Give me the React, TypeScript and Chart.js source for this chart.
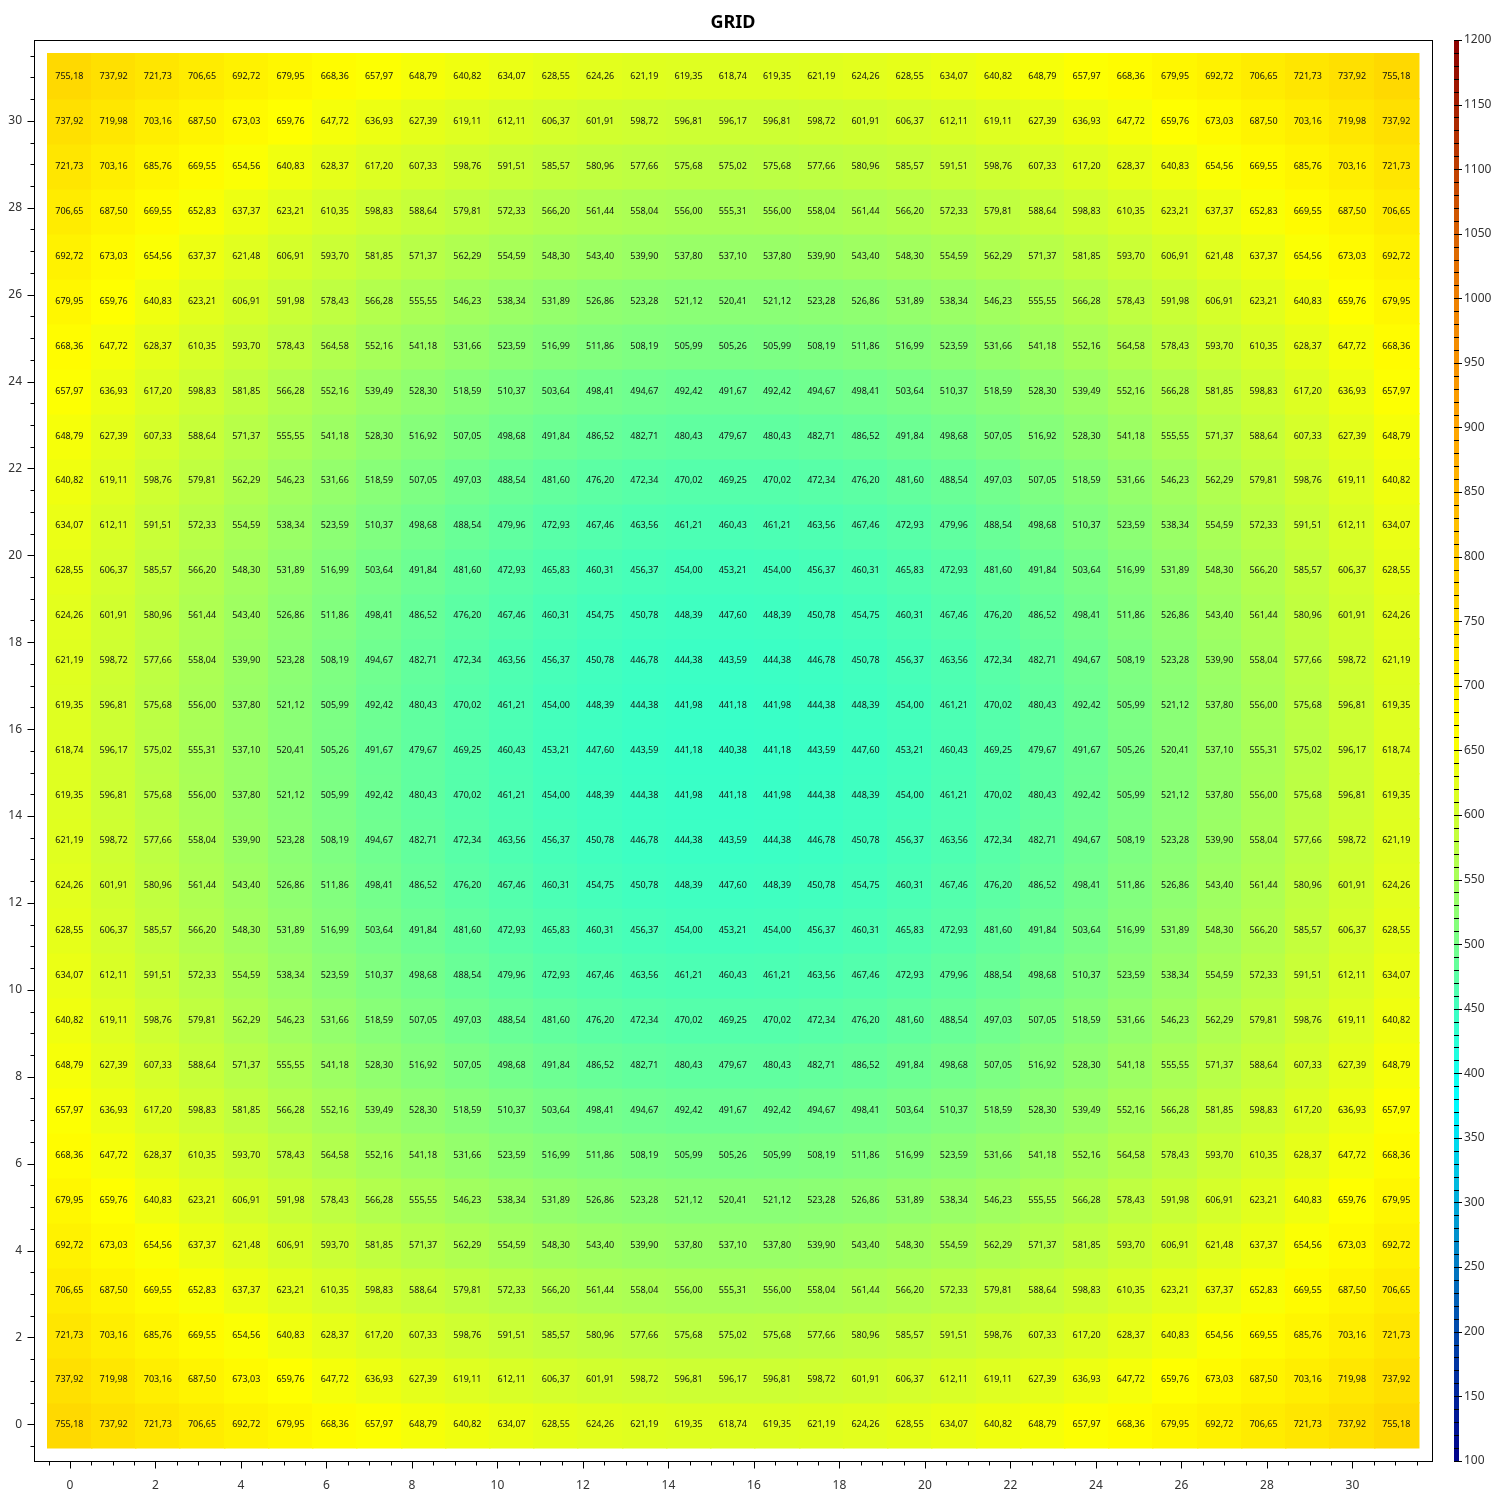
import { useEffect, useRef } from "react"
import { Chart, registerables } from "chart.js"

Chart.register(...registerables)

const FONT = "'Noto Sans', 'Open Sans', sans-serif"

// column / row indices of the grid
const xIndex = [0, 1, 2, 3, 4, 5, 6, 7, 8, 9, 10, 11, 12, 13, 14, 15, 16, 17, 18, 19, 20, 21, 22, 23, 24, 25, 26, 27, 28, 29, 30]
const yIndex = [0, 1, 2, 3, 4, 5, 6, 7, 8, 9, 10, 11, 12, 13, 14, 15, 16, 17, 18, 19, 20, 21, 22, 23, 24, 25, 26, 27, 28, 29, 30]

// cell values, row 0 is the bottom row
const gridRows: number[][] = [
  [755.18, 737.92, 721.73, 706.65, 692.72, 679.95, 668.36, 657.97, 648.79, 640.82, 634.07, 628.55, 624.26, 621.19, 619.35, 618.74, 619.35, 621.19, 624.26, 628.55, 634.07, 640.82, 648.79, 657.97, 668.36, 679.95, 692.72, 706.65, 721.73, 737.92, 755.18],
  [737.92, 719.98, 703.16, 687.5, 673.03, 659.76, 647.72, 636.93, 627.39, 619.11, 612.11, 606.37, 601.91, 598.72, 596.81, 596.17, 596.81, 598.72, 601.91, 606.37, 612.11, 619.11, 627.39, 636.93, 647.72, 659.76, 673.03, 687.5, 703.16, 719.98, 737.92],
  [721.73, 703.16, 685.76, 669.55, 654.56, 640.83, 628.37, 617.2, 607.33, 598.76, 591.51, 585.57, 580.96, 577.66, 575.68, 575.02, 575.68, 577.66, 580.96, 585.57, 591.51, 598.76, 607.33, 617.2, 628.37, 640.83, 654.56, 669.55, 685.76, 703.16, 721.73],
  [706.65, 687.5, 669.55, 652.83, 637.37, 623.21, 610.35, 598.83, 588.64, 579.81, 572.33, 566.2, 561.44, 558.04, 556.0, 555.31, 556.0, 558.04, 561.44, 566.2, 572.33, 579.81, 588.64, 598.83, 610.35, 623.21, 637.37, 652.83, 669.55, 687.5, 706.65],
  [692.72, 673.03, 654.56, 637.37, 621.48, 606.91, 593.7, 581.85, 571.37, 562.29, 554.59, 548.3, 543.4, 539.9, 537.8, 537.1, 537.8, 539.9, 543.4, 548.3, 554.59, 562.29, 571.37, 581.85, 593.7, 606.91, 621.48, 637.37, 654.56, 673.03, 692.72],
  [679.95, 659.76, 640.83, 623.21, 606.91, 591.98, 578.43, 566.28, 555.55, 546.23, 538.34, 531.89, 526.86, 523.28, 521.12, 520.41, 521.12, 523.28, 526.86, 531.89, 538.34, 546.23, 555.55, 566.28, 578.43, 591.98, 606.91, 623.21, 640.83, 659.76, 679.95],
  [668.36, 647.72, 628.37, 610.35, 593.7, 578.43, 564.58, 552.16, 541.18, 531.66, 523.59, 516.99, 511.86, 508.19, 505.99, 505.26, 505.99, 508.19, 511.86, 516.99, 523.59, 531.66, 541.18, 552.16, 564.58, 578.43, 593.7, 610.35, 628.37, 647.72, 668.36],
  [657.97, 636.93, 617.2, 598.83, 581.85, 566.28, 552.16, 539.49, 528.3, 518.59, 510.37, 503.64, 498.41, 494.67, 492.42, 491.67, 492.42, 494.67, 498.41, 503.64, 510.37, 518.59, 528.3, 539.49, 552.16, 566.28, 581.85, 598.83, 617.2, 636.93, 657.97],
  [648.79, 627.39, 607.33, 588.64, 571.37, 555.55, 541.18, 528.3, 516.92, 507.05, 498.68, 491.84, 486.52, 482.71, 480.43, 479.67, 480.43, 482.71, 486.52, 491.84, 498.68, 507.05, 516.92, 528.3, 541.18, 555.55, 571.37, 588.64, 607.33, 627.39, 648.79],
  [640.82, 619.11, 598.76, 579.81, 562.29, 546.23, 531.66, 518.59, 507.05, 497.03, 488.54, 481.6, 476.2, 472.34, 470.02, 469.25, 470.02, 472.34, 476.2, 481.6, 488.54, 497.03, 507.05, 518.59, 531.66, 546.23, 562.29, 579.81, 598.76, 619.11, 640.82],
  [634.07, 612.11, 591.51, 572.33, 554.59, 538.34, 523.59, 510.37, 498.68, 488.54, 479.96, 472.93, 467.46, 463.56, 461.21, 460.43, 461.21, 463.56, 467.46, 472.93, 479.96, 488.54, 498.68, 510.37, 523.59, 538.34, 554.59, 572.33, 591.51, 612.11, 634.07],
  [628.55, 606.37, 585.57, 566.2, 548.3, 531.89, 516.99, 503.64, 491.84, 481.6, 472.93, 465.83, 460.31, 456.37, 454.0, 453.21, 454.0, 456.37, 460.31, 465.83, 472.93, 481.6, 491.84, 503.64, 516.99, 531.89, 548.3, 566.2, 585.57, 606.37, 628.55],
  [624.26, 601.91, 580.96, 561.44, 543.4, 526.86, 511.86, 498.41, 486.52, 476.2, 467.46, 460.31, 454.75, 450.78, 448.39, 447.6, 448.39, 450.78, 454.75, 460.31, 467.46, 476.2, 486.52, 498.41, 511.86, 526.86, 543.4, 561.44, 580.96, 601.91, 624.26],
  [621.19, 598.72, 577.66, 558.04, 539.9, 523.28, 508.19, 494.67, 482.71, 472.34, 463.56, 456.37, 450.78, 446.78, 444.38, 443.59, 444.38, 446.78, 450.78, 456.37, 463.56, 472.34, 482.71, 494.67, 508.19, 523.28, 539.9, 558.04, 577.66, 598.72, 621.19],
  [619.35, 596.81, 575.68, 556.0, 537.8, 521.12, 505.99, 492.42, 480.43, 470.02, 461.21, 454.0, 448.39, 444.38, 441.98, 441.18, 441.98, 444.38, 448.39, 454.0, 461.21, 470.02, 480.43, 492.42, 505.99, 521.12, 537.8, 556.0, 575.68, 596.81, 619.35],
  [618.74, 596.17, 575.02, 555.31, 537.1, 520.41, 505.26, 491.67, 479.67, 469.25, 460.43, 453.21, 447.6, 443.59, 441.18, 440.38, 441.18, 443.59, 447.6, 453.21, 460.43, 469.25, 479.67, 491.67, 505.26, 520.41, 537.1, 555.31, 575.02, 596.17, 618.74],
  [619.35, 596.81, 575.68, 556.0, 537.8, 521.12, 505.99, 492.42, 480.43, 470.02, 461.21, 454.0, 448.39, 444.38, 441.98, 441.18, 441.98, 444.38, 448.39, 454.0, 461.21, 470.02, 480.43, 492.42, 505.99, 521.12, 537.8, 556.0, 575.68, 596.81, 619.35],
  [621.19, 598.72, 577.66, 558.04, 539.9, 523.28, 508.19, 494.67, 482.71, 472.34, 463.56, 456.37, 450.78, 446.78, 444.38, 443.59, 444.38, 446.78, 450.78, 456.37, 463.56, 472.34, 482.71, 494.67, 508.19, 523.28, 539.9, 558.04, 577.66, 598.72, 621.19],
  [624.26, 601.91, 580.96, 561.44, 543.4, 526.86, 511.86, 498.41, 486.52, 476.2, 467.46, 460.31, 454.75, 450.78, 448.39, 447.6, 448.39, 450.78, 454.75, 460.31, 467.46, 476.2, 486.52, 498.41, 511.86, 526.86, 543.4, 561.44, 580.96, 601.91, 624.26],
  [628.55, 606.37, 585.57, 566.2, 548.3, 531.89, 516.99, 503.64, 491.84, 481.6, 472.93, 465.83, 460.31, 456.37, 454.0, 453.21, 454.0, 456.37, 460.31, 465.83, 472.93, 481.6, 491.84, 503.64, 516.99, 531.89, 548.3, 566.2, 585.57, 606.37, 628.55],
  [634.07, 612.11, 591.51, 572.33, 554.59, 538.34, 523.59, 510.37, 498.68, 488.54, 479.96, 472.93, 467.46, 463.56, 461.21, 460.43, 461.21, 463.56, 467.46, 472.93, 479.96, 488.54, 498.68, 510.37, 523.59, 538.34, 554.59, 572.33, 591.51, 612.11, 634.07],
  [640.82, 619.11, 598.76, 579.81, 562.29, 546.23, 531.66, 518.59, 507.05, 497.03, 488.54, 481.6, 476.2, 472.34, 470.02, 469.25, 470.02, 472.34, 476.2, 481.6, 488.54, 497.03, 507.05, 518.59, 531.66, 546.23, 562.29, 579.81, 598.76, 619.11, 640.82],
  [648.79, 627.39, 607.33, 588.64, 571.37, 555.55, 541.18, 528.3, 516.92, 507.05, 498.68, 491.84, 486.52, 482.71, 480.43, 479.67, 480.43, 482.71, 486.52, 491.84, 498.68, 507.05, 516.92, 528.3, 541.18, 555.55, 571.37, 588.64, 607.33, 627.39, 648.79],
  [657.97, 636.93, 617.2, 598.83, 581.85, 566.28, 552.16, 539.49, 528.3, 518.59, 510.37, 503.64, 498.41, 494.67, 492.42, 491.67, 492.42, 494.67, 498.41, 503.64, 510.37, 518.59, 528.3, 539.49, 552.16, 566.28, 581.85, 598.83, 617.2, 636.93, 657.97],
  [668.36, 647.72, 628.37, 610.35, 593.7, 578.43, 564.58, 552.16, 541.18, 531.66, 523.59, 516.99, 511.86, 508.19, 505.99, 505.26, 505.99, 508.19, 511.86, 516.99, 523.59, 531.66, 541.18, 552.16, 564.58, 578.43, 593.7, 610.35, 628.37, 647.72, 668.36],
  [679.95, 659.76, 640.83, 623.21, 606.91, 591.98, 578.43, 566.28, 555.55, 546.23, 538.34, 531.89, 526.86, 523.28, 521.12, 520.41, 521.12, 523.28, 526.86, 531.89, 538.34, 546.23, 555.55, 566.28, 578.43, 591.98, 606.91, 623.21, 640.83, 659.76, 679.95],
  [692.72, 673.03, 654.56, 637.37, 621.48, 606.91, 593.7, 581.85, 571.37, 562.29, 554.59, 548.3, 543.4, 539.9, 537.8, 537.1, 537.8, 539.9, 543.4, 548.3, 554.59, 562.29, 571.37, 581.85, 593.7, 606.91, 621.48, 637.37, 654.56, 673.03, 692.72],
  [706.65, 687.5, 669.55, 652.83, 637.37, 623.21, 610.35, 598.83, 588.64, 579.81, 572.33, 566.2, 561.44, 558.04, 556.0, 555.31, 556.0, 558.04, 561.44, 566.2, 572.33, 579.81, 588.64, 598.83, 610.35, 623.21, 637.37, 652.83, 669.55, 687.5, 706.65],
  [721.73, 703.16, 685.76, 669.55, 654.56, 640.83, 628.37, 617.2, 607.33, 598.76, 591.51, 585.57, 580.96, 577.66, 575.68, 575.02, 575.68, 577.66, 580.96, 585.57, 591.51, 598.76, 607.33, 617.2, 628.37, 640.83, 654.56, 669.55, 685.76, 703.16, 721.73],
  [737.92, 719.98, 703.16, 687.5, 673.03, 659.76, 647.72, 636.93, 627.39, 619.11, 612.11, 606.37, 601.91, 598.72, 596.81, 596.17, 596.81, 598.72, 601.91, 606.37, 612.11, 619.11, 627.39, 636.93, 647.72, 659.76, 673.03, 687.5, 703.16, 719.98, 737.92],
  [755.18, 737.92, 721.73, 706.65, 692.72, 679.95, 668.36, 657.97, 648.79, 640.82, 634.07, 628.55, 624.26, 621.19, 619.35, 618.74, 619.35, 621.19, 624.26, 628.55, 634.07, 640.82, 648.79, 657.97, 668.36, 679.95, 692.72, 706.65, 721.73, 737.92, 755.18],
]

// colour scale
const colorMin = 100
const colorMax = 1200
const colorStopValues = [100, 200, 300, 380, 450, 510, 580, 660, 760, 900, 1000, 1100, 1200]
const colorStopColors = [
  "#00008b", "#0046aa", "#00aad8", "#00ffff", "#40ffc0", "#80ff80", "#c0ff40",
  "#ffff00", "#ffd700", "#ffa500", "#ee8000", "#c04000", "#8b0000",
]

// axis range and image extent (data units)
const AXIS_MIN = -0.84
const AXIS_MAX = 31.86
const EXTENT_MIN = -0.53
const EXTENT_MAX = 31.54
const TICK_MIN = -0.5
const TICK_MAX = 31.5

const hexToRgb = (h: string) => [
  parseInt(h.slice(1, 3), 16),
  parseInt(h.slice(3, 5), 16),
  parseInt(h.slice(5, 7), 16),
]

function colorFor(v: number) {
  const vals = colorStopValues
  if (v <= vals[0]) return colorStopColors[0]
  if (v >= vals[vals.length - 1]) return colorStopColors[vals.length - 1]
  let i = 0
  while (v > vals[i + 1]) i++
  const t = (v - vals[i]) / (vals[i + 1] - vals[i])
  const a = hexToRgb(colorStopColors[i])
  const b = hexToRgb(colorStopColors[i + 1])
  const c = a.map((x, k) => Math.round(x + (b[k] - x) * t))
  return `rgb(${c[0]},${c[1]},${c[2]})`
}

const cellEdgeX = (i: number) => EXTENT_MIN + (i * (EXTENT_MAX - EXTENT_MIN)) / xIndex.length
const cellEdgeY = (i: number) => EXTENT_MIN + (i * (EXTENT_MAX - EXTENT_MIN)) / yIndex.length

const heatPoints = yIndex.flatMap((r) =>
  xIndex.map((c) => ({
    x: (cellEdgeX(c) + cellEdgeX(c + 1)) / 2,
    y: (cellEdgeY(r) + cellEdgeY(r + 1)) / 2,
    col: c,
    row: r,
    v: gridRows[r][c],
  }))
)

const heatmapPlugin = {
  id: "heatmap",
  beforeDatasetsDraw(chart: any) {
    const { ctx, scales } = chart
    const xs = scales.x
    const ys = scales.y
    const pts = chart.data.datasets[0].data as typeof heatPoints
    ctx.save()
    pts.forEach((p) => {
      const l = xs.getPixelForValue(cellEdgeX(p.col))
      const r = xs.getPixelForValue(cellEdgeX(p.col + 1))
      const t = ys.getPixelForValue(cellEdgeY(p.row + 1))
      const b = ys.getPixelForValue(cellEdgeY(p.row))
      ctx.fillStyle = colorFor(p.v)
      ctx.fillRect(Math.floor(l), Math.floor(t), Math.ceil(r) - Math.floor(l) + 0.5, Math.ceil(b) - Math.floor(t) + 0.5)
    })
    ctx.fillStyle = "#111"
    ctx.font = `9px ${FONT}`
    ctx.textAlign = "center"
    ctx.textBaseline = "middle"
    pts.forEach((p) => {
      ctx.fillText(p.v.toFixed(2).replace(".", ","), xs.getPixelForValue(p.x), ys.getPixelForValue(p.y))
    })
    ctx.restore()
  },
  afterDraw(chart: any) {
    const { ctx, chartArea: ca, scales } = chart
    const xs = scales.x
    const ys = scales.y
    ctx.save()
    // frame
    ctx.strokeStyle = "#000"
    ctx.lineWidth = 1
    ctx.strokeRect(Math.round(ca.left) + 0.5, Math.round(ca.top) + 0.5, Math.round(ca.right - ca.left), Math.round(ca.bottom - ca.top))
    // ticks every 0.5, major every 2
    ctx.beginPath()
    for (let k = TICK_MIN * 2; k <= TICK_MAX * 2; k++) {
      const v = k / 2
      const major = v % 2 === 0
      const px = Math.round(xs.getPixelForValue(v)) + 0.5
      const by = Math.round(ca.bottom) + 0.5
      ctx.moveTo(px, by)
      ctx.lineTo(px, by + (major ? 7 : 4))
      const py = Math.round(ys.getPixelForValue(v)) + 0.5
      const lx = Math.round(ca.left) + 0.5
      ctx.moveTo(lx, py)
      ctx.lineTo(lx - (major ? 7 : 4), py)
    }
    ctx.stroke()

    // colour bar
    const cs = scales.c
    const barL = Math.round(cs.left) + 22
    const barW = 5
    for (let v = colorMin; v < colorMax; v += 10) {
      const y0 = cs.getPixelForValue(v)
      const y1 = cs.getPixelForValue(v + 10)
      ctx.fillStyle = colorFor(v + 5)
      ctx.fillRect(barL, Math.floor(y1), barW, Math.ceil(y0) - Math.floor(y1))
    }
    ctx.beginPath()
    for (let v = colorMin; v <= colorMax; v += 10) {
      const major = v % 50 === 0
      const py = Math.round(cs.getPixelForValue(v)) + 0.5
      ctx.moveTo(barL, py)
      ctx.lineTo(barL + barW + (major ? 3 : 0), py)
    }
    ctx.strokeStyle = "#000"
    ctx.stroke()
    ctx.restore()
  },
}

export default function App() {
  const chartRef = useRef<HTMLCanvasElement>(null)
  const chartInstance = useRef<Chart | null>(null)

  useEffect(() => {
    document.body.style.margin = "0"
    if (!chartRef.current) return
    if (chartInstance.current) chartInstance.current.destroy()
    const ctx = chartRef.current.getContext("2d")
    if (!ctx) return

    chartInstance.current = new Chart(ctx, {
      type: "scatter",
      data: {
        datasets: [
          {
            data: heatPoints,
            pointRadius: 0,
            pointHoverRadius: 0,
          },
        ],
      },
      options: {
        animation: false,
        responsive: false,
        maintainAspectRatio: false,
        layout: { padding: 0 },
        events: [],
        plugins: {
          legend: { display: false },
          tooltip: { enabled: false },
          title: {
            display: true,
            fullSize: false,
            text: "GRID",
            color: "#000",
            font: { family: FONT, size: 18, weight: "bold" },
            padding: { top: 12, bottom: 6.4 },
          },
        },
        scales: {
          x: {
            type: "linear",
            position: "bottom",
            min: AXIS_MIN,
            max: AXIS_MAX,
            grid: { display: false, drawTicks: false },
            border: { display: false },
            ticks: {
              stepSize: 2,
              includeBounds: false,
              padding: 18,
              maxRotation: 0,
              color: "#333",
              font: { family: FONT, size: 12 },
            },
            afterFit: (s: any) => {
              s.height = 38
            },
          },
          y: {
            type: "linear",
            position: "left",
            min: AXIS_MIN,
            max: AXIS_MAX,
            grid: { display: false, drawTicks: false },
            border: { display: false },
            ticks: {
              stepSize: 2,
              includeBounds: false,
              padding: 12,
              color: "#333",
              font: { family: FONT, size: 12 },
            },
            afterFit: (s: any) => {
              s.width = 34
            },
          },
          c: {
            type: "linear",
            axis: "y",
            position: "right",
            min: colorMin,
            max: colorMax,
            grid: { display: false, drawTicks: false },
            border: { display: false },
            ticks: {
              stepSize: 50,
              padding: 32,
              color: "#333",
              font: { family: FONT, size: 12 },
              callback: (v: any) => String(v),
            },
            afterFit: (s: any) => {
              s.width = 68
            },
          },
        },
      },
      plugins: [heatmapPlugin],
    } as any)

    return () => {
      if (chartInstance.current) {
        chartInstance.current.destroy()
        chartInstance.current = null
      }
    }
  }, [])

  return (
    <div style={{ width: 1500, height: 1500 }}>
      <canvas ref={chartRef} width={1500} height={1500} style={{ width: 1500, height: 1500 }}></canvas>
    </div>
  )
}
